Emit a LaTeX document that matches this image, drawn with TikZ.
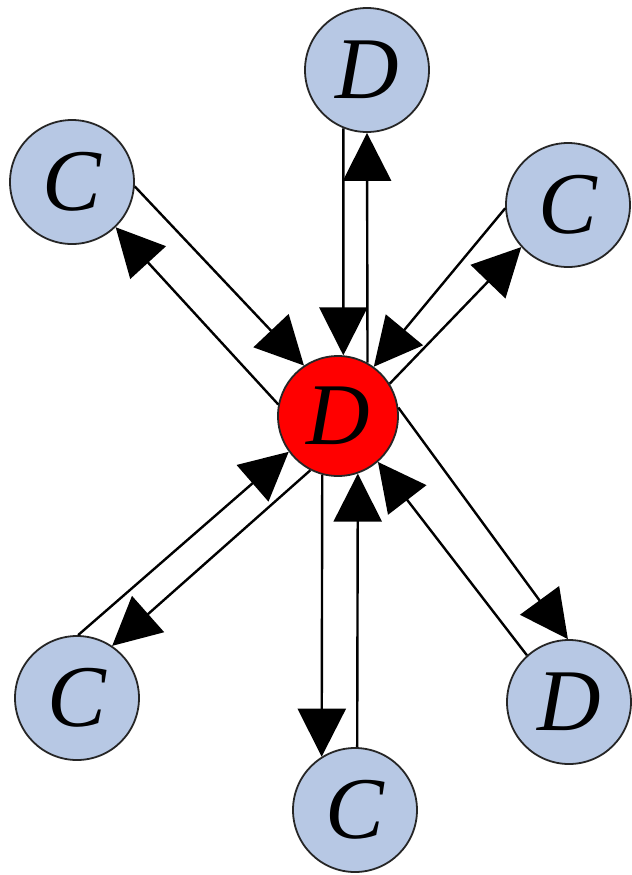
\documentclass[tikz,border=0pt]{standalone}
\usepackage{fontspec}
\setmainfont{Liberation Serif}
\usetikzlibrary{arrows.meta}
\definecolor{nodeblue}{RGB}{183,200,228}
\definecolor{nodered}{RGB}{255,0,0}
\tikzset{
  outernode/.style={circle, draw=black!85, line width=0.9pt, fill=nodeblue, minimum size=62pt, inner sep=0pt,
    font=\fontsize{44}{44}\selectfont\itshape},
  centernode/.style={outernode, fill=nodered, minimum size=60pt},
  edgeline/.style={line width=1.2pt, -{Triangle[length=24pt,width=24pt]}}
}
\begin{document}
\begin{tikzpicture}[x=0.5pt,y=-0.5pt]
\useasboundingbox (0,0) rectangle (632,875);
\node[centernode] (R) at (338,416) {D};
\node[outernode] (T) at (367,70) {D};
\node[outernode] (L1) at (72,182) {C};
\node[outernode] (R2) at (568,205) {C};
\node[outernode] (L2) at (77,698) {C};
\node[outernode] (B) at (355,810) {C};
\node[outernode] (BR) at (569,702) {D};
% top
\draw[edgeline] (T.-112.8) -- (R.85.2);
\draw[edgeline] (R.61.1) -- (T.-90);
% top-left
\draw[edgeline] (L1.-4) -- (R.124);
\draw[edgeline] (R.169) -- (L1.-46);
% top-right
\draw[edgeline] (R2.183) -- (R.54);
\draw[edgeline] (R.32) -- (R2.-138);
% bottom-left
\draw[edgeline] (L2.89) -- (R.-144);
\draw[edgeline] (R.-117) -- (L2.56);
% bottom
\draw[edgeline] (R.-105.5) -- (B.122.2);
\draw[edgeline] (B.88.2) -- (R.-71.5);
% bottom-right
\draw[edgeline] (R.8) -- (BR.91);
\draw[edgeline] (BR.132) -- (R.-49);
\end{tikzpicture}
\end{document}
